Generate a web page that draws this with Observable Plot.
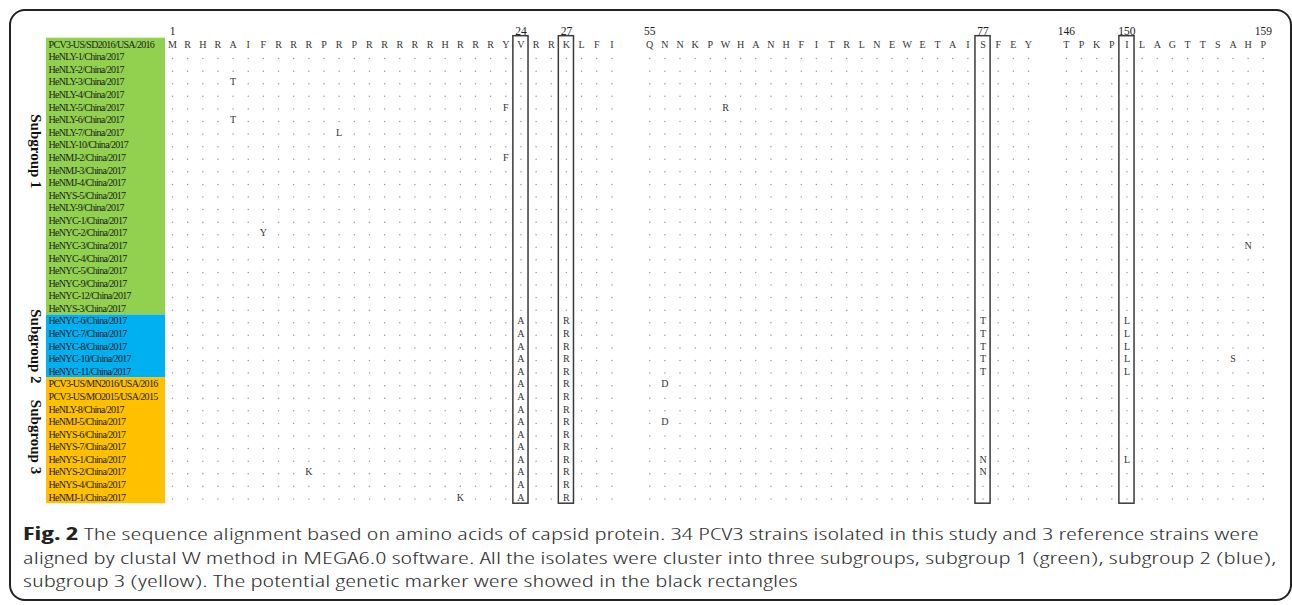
<!DOCTYPE html>
<html>
<head>
<meta charset="utf-8">
<script src="https://cdn.jsdelivr.net/npm/d3@7"></script>
<script src="https://cdn.jsdelivr.net/npm/@observablehq/plot@0.6"></script>
<style>
  html, body { margin: 0; padding: 0; background: #fff; }
  body { position: relative; width: 1292px; height: 605px; overflow: hidden; }
  #frame { position: absolute; left: 9px; top: 9px; width: 1283px; height: 592px; box-sizing: border-box;
           border: 2px solid #222; border-radius: 16px; }
  #chart { position: absolute; left: 0; top: 0; }
  #chart svg { overflow: visible; background: transparent; }
  #caption { position: absolute; left: 23px; top: 522px; transform-origin: 0 0;
             font-family: "Open Sans", "Noto Sans", sans-serif; font-stretch: 75%; font-weight: 300;
             font-size: 17px; line-height: 23.5px; color: #333; }
  #caption .ln { white-space: nowrap; height: 23.5px; }
  #caption b { font-weight: 700; color: #222; }
</style>
</head>
<body>
<div id="frame"></div>
<div id="chart"></div>
<div id="caption">
  <div class="ln"><b>Fig. 2</b> The sequence alignment based on amino acids of capsid protein. 34 PCV3 strains isolated in this study and 3 reference strains were</div>
  <div class="ln">aligned by clustal W method in MEGA6.0 software. All the isolates were cluster into three subgroups, subgroup 1 (green), subgroup 2 (blue),</div>
  <div class="ln">subgroup 3 (yellow). The potential genetic marker were showed in the black rectangles</div>
</div>
<script>
// ---------------- DATA ----------------
const subgroupNames = ["Subgroup 1", "Subgroup 2", "Subgroup 3"];
const subgroupColors = ["#92D050", "#00B0F0", "#FFC000"];

const subgroup1Strains = [
  "PCV3-US/SD2016/USA/2016", "HeNLY-1/China/2017", "HeNLY-2/China/2017", "HeNLY-3/China/2017",
  "HeNLY-4/China/2017", "HeNLY-5/China/2017", "HeNLY-6/China/2017", "HeNLY-7/China/2017",
  "HeNLY-10/China/2017", "HeNMJ-2/China/2017", "HeNMJ-3/China/2017", "HeNMJ-4/China/2017",
  "HeNYS-5/China/2017", "HeNLY-9/China/2017", "HeNYC-1/China/2017", "HeNYC-2/China/2017",
  "HeNYC-3/China/2017", "HeNYC-4/China/2017", "HeNYC-5/China/2017", "HeNYC-9/China/2017",
  "HeNYC-12/China/2017", "HeNYS-3/China/2017"
];
const subgroup2Strains = [
  "HeNYC-6/China/2017", "HeNYC-7/China/2017", "HeNYC-8/China/2017", "HeNYC-10/China/2017", "HeNYC-11/China/2017"
];
const subgroup3Strains = [
  "PCV3-US/MN2016/USA/2016", "PCV3-US/MO2015/USA/2015", "HeNLY-8/China/2017", "HeNMJ-5/China/2017",
  "HeNYS-6/China/2017", "HeNYS-7/China/2017", "HeNYS-1/China/2017", "HeNYS-2/China/2017",
  "HeNYS-4/China/2017", "HeNMJ-1/China/2017"
];

// reference sequence segments shown (first amino-acid position, residues)
const segmentStarts = [1, 55, 146];
const segmentResidues = [
  "MRHRAIFRRRPRPRRRRRHRRRYVRRKLFI",
  "QNNKPWHANHFITRLNEWETAISFEY",
  "TPKPILAGTTSAHP"
];
const positionLabels = [1, 24, 27, 55, 77, 146, 150, 159];
const markerPositions = [24, 27, 77, 150];

// substitutions relative to the reference strain: [strain, position, residue]
const substitutions = [
  ["HeNLY-3/China/2017", 5, "T"],
  ["HeNLY-5/China/2017", 23, "F"], ["HeNLY-5/China/2017", 60, "R"],
  ["HeNLY-6/China/2017", 5, "T"],
  ["HeNLY-7/China/2017", 12, "L"],
  ["HeNMJ-2/China/2017", 23, "F"],
  ["HeNYC-2/China/2017", 7, "Y"],
  ["HeNYC-3/China/2017", 158, "N"],
  ["HeNYC-6/China/2017", 24, "A"], ["HeNYC-6/China/2017", 27, "R"], ["HeNYC-6/China/2017", 77, "T"], ["HeNYC-6/China/2017", 150, "L"],
  ["HeNYC-7/China/2017", 24, "A"], ["HeNYC-7/China/2017", 27, "R"], ["HeNYC-7/China/2017", 77, "T"], ["HeNYC-7/China/2017", 150, "L"],
  ["HeNYC-8/China/2017", 24, "A"], ["HeNYC-8/China/2017", 27, "R"], ["HeNYC-8/China/2017", 77, "T"], ["HeNYC-8/China/2017", 150, "L"],
  ["HeNYC-10/China/2017", 24, "A"], ["HeNYC-10/China/2017", 27, "R"], ["HeNYC-10/China/2017", 77, "T"], ["HeNYC-10/China/2017", 150, "L"], ["HeNYC-10/China/2017", 157, "S"],
  ["HeNYC-11/China/2017", 24, "A"], ["HeNYC-11/China/2017", 27, "R"], ["HeNYC-11/China/2017", 77, "T"], ["HeNYC-11/China/2017", 150, "L"],
  ["PCV3-US/MN2016/USA/2016", 24, "A"], ["PCV3-US/MN2016/USA/2016", 27, "R"], ["PCV3-US/MN2016/USA/2016", 56, "D"],
  ["PCV3-US/MO2015/USA/2015", 24, "A"], ["PCV3-US/MO2015/USA/2015", 27, "R"],
  ["HeNLY-8/China/2017", 24, "A"], ["HeNLY-8/China/2017", 27, "R"],
  ["HeNMJ-5/China/2017", 24, "A"], ["HeNMJ-5/China/2017", 27, "R"], ["HeNMJ-5/China/2017", 56, "D"],
  ["HeNYS-6/China/2017", 24, "A"], ["HeNYS-6/China/2017", 27, "R"],
  ["HeNYS-7/China/2017", 24, "A"], ["HeNYS-7/China/2017", 27, "R"],
  ["HeNYS-1/China/2017", 24, "A"], ["HeNYS-1/China/2017", 27, "R"], ["HeNYS-1/China/2017", 77, "N"], ["HeNYS-1/China/2017", 150, "L"],
  ["HeNYS-2/China/2017", 24, "A"], ["HeNYS-2/China/2017", 27, "R"], ["HeNYS-2/China/2017", 77, "N"], ["HeNYS-2/China/2017", 10, "K"],
  ["HeNYS-4/China/2017", 24, "A"], ["HeNYS-4/China/2017", 27, "R"],
  ["HeNMJ-1/China/2017", 24, "A"], ["HeNMJ-1/China/2017", 27, "R"], ["HeNMJ-1/China/2017", 20, "K"]
];

// ---------------- LAYOUT HELPERS ----------------
const GAP = 1.5;          // extra column slots between displayed segments
const COL = 15.15;        // px per column
const X0 = 172;           // px of first column
const LABEL_BG = [-8.32, -0.46];  // label background span, in column units
const LABEL_TX = -8.18;           // strain label start, in column units
const GROUP_TX = -9.05;           // subgroup label, in column units
const groupShift = [-2, 0, -0.3]; // small vertical nudge of subgroup titles (rows)

const segOffsets = [];
{ let off = 0; segmentResidues.forEach((s, i) => { segOffsets.push(off); off += s.length + GAP; }); }
function slotOf(pos) {
  for (let i = segmentStarts.length - 1; i >= 0; i--) {
    if (pos >= segmentStarts[i]) return segOffsets[i] + (pos - segmentStarts[i]);
  }
  return 0;
}

const groupLists = [subgroup1Strains, subgroup2Strains, subgroup3Strains];
const rows = [];
const groups = [];
groupLists.forEach((list, g) => {
  const start = rows.length;
  list.forEach(name => rows.push({ name, row: rows.length, group: g }));
  groups.push({ name: subgroupNames[g], color: subgroupColors[g], start, end: rows.length - 1, g });
});
const nRows = rows.length;

const subMap = new Map(substitutions.map(([s, p, a]) => [s + "|" + p, a]));
const cells = [];
rows.forEach(r => {
  segmentResidues.forEach((seq, i) => {
    for (let k = 0; k < seq.length; k++) {
      const pos = segmentStarts[i] + k;
      let aa;
      if (r.row === 0) aa = seq[k];
      else aa = subMap.get(r.name + "|" + pos) || ".";
      cells.push({ row: r.row, slot: slotOf(pos), aa });
    }
  });
});

const W = 1292, H = 512;
const serif = "Liberation Serif, Times New Roman, serif";

const plot = Plot.plot({
  width: W, height: H,
  marginLeft: 0, marginRight: 0, marginTop: 37.7, marginBottom: H - 503.2,
  x: { domain: [-X0 / COL, (W - X0) / COL], axis: null },
  y: { domain: [-0.5, nRows - 0.5], reverse: true, axis: null },
  color: { type: "identity" },
  style: { background: "transparent", overflow: "visible" },
  marks: [
    Plot.rect(groups, {
      x1: () => LABEL_BG[0], x2: () => LABEL_BG[1],
      y1: d => d.start - 0.5, y2: d => d.end + 0.5, fill: d => d.color
    }),
    Plot.text(rows, {
      x: () => LABEL_TX, y: "row", text: "name", textAnchor: "start",
      fontFamily: serif, fontSize: 10, fill: "#1c1c1c"
    }),
    Plot.text(groups, {
      x: () => GROUP_TX, y: d => (d.start + d.end) / 2 + groupShift[d.g], text: "name",
      rotate: 90, fontFamily: serif, fontSize: 15, fontWeight: "bold", fill: "#111"
    }),
    Plot.dot(cells.filter(c => c.aa === "."), {
      x: "slot", y: "row", r: 0.75, fill: "#9a9a9a", stroke: "none", dy: 1.5
    }),
    Plot.text(cells.filter(c => c.aa !== "."), {
      x: "slot", y: "row", text: "aa", fontFamily: serif, fontSize: 10, fill: "#333"
    }),
    Plot.rect(markerPositions, {
      x1: d => slotOf(d) - 0.5, x2: d => slotOf(d) + 0.5,
      y1: () => -0.66, y2: () => nRows - 0.5,
      fill: "none", stroke: "#3a3a3a", strokeWidth: 1.5
    }),
    Plot.text(positionLabels, {
      x: d => slotOf(d), y: () => -1.05, text: d => String(d),
      fontFamily: serif, fontSize: 11.5, fill: "#222"
    })
  ]
});
document.getElementById("chart").appendChild(plot);

// condense the strain labels so they fit their coloured boxes
const names = new Set(rows.map(r => r.name));
d3.select(plot).selectAll("text")
  .filter(function () { return names.has(this.textContent); })
  .style("letter-spacing", "-0.7px");

// fit caption width to the frame
const cap = document.getElementById("caption");
const first = cap.querySelector(".ln");
const w = first.scrollWidth;
const k = 1253 / w;
cap.style.transform = `scaleX(${k})`;
</script>
</body>
</html>
